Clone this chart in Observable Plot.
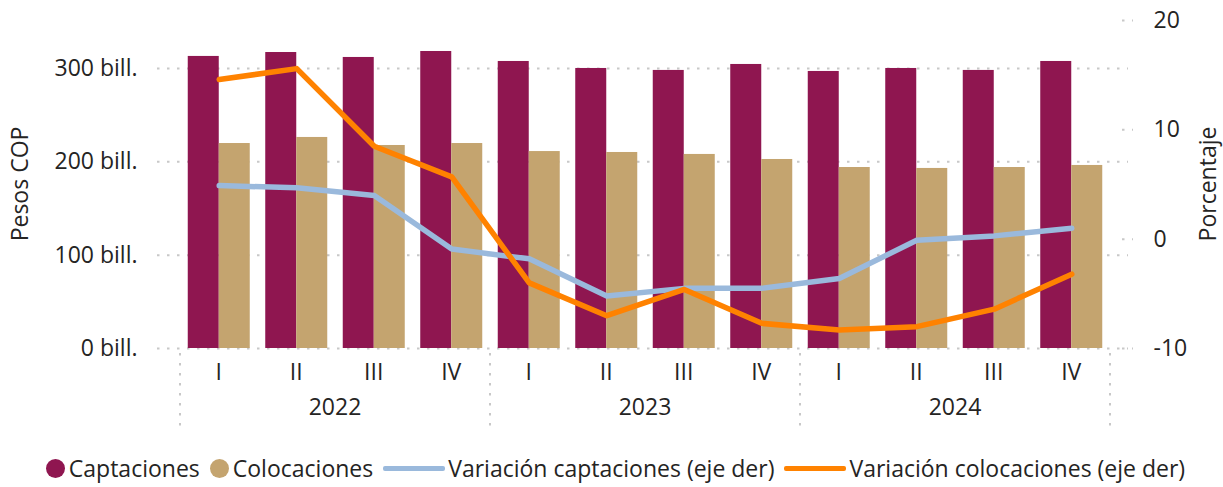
<!DOCTYPE html>
<html>
<head>
<meta charset="utf-8">
<script src="https://cdn.jsdelivr.net/npm/d3@7"></script>
<script src="https://cdn.jsdelivr.net/npm/@observablehq/plot@0.6"></script>
<style>
  html, body { margin: 0; padding: 0; background: #fff; }
  body { width: 1223px; height: 487px; overflow: hidden; font-family: "Open Sans", sans-serif; color: #252423; }
  #legend { display: flex; justify-content: center; align-items: center; height: 48px; margin-top: 4px; padding-left: 18px; font-size: 23px; white-space: nowrap; }
  .item { display: flex; align-items: center; margin-right: 10px; }
  .dot { width: 19px; height: 19px; border-radius: 50%; margin-right: 4px; }
  .sw { width: 62px; height: 5px; border-radius: 2px; margin-right: 3px; }
</style>
</head>
<body>
<div id="chart"></div>
<div id="legend"></div>
<script>
// ---- data ----
const years = ["2022", "2023", "2024"];
const quarters = ["I", "II", "III", "IV"];
const captaciones = [312.9, 317.1, 311.8, 318.2, 307.5, 300.0, 297.9, 304.3, 296.8, 300.0, 297.9, 307.5];
const colocaciones = [219.6, 226.1, 217.5, 219.6, 211.0, 210.0, 207.9, 202.5, 193.9, 192.9, 193.9, 196.1];
const varCaptaciones = [4.9, 4.7, 4.0, -0.9, -1.8, -5.2, -4.5, -4.5, -3.6, -0.1, 0.3, 1.0];
const varColocaciones = [14.6, 15.6, 8.5, 5.7, -4.0, -7.0, -4.6, -7.7, -8.3, -8.0, -6.4, -3.2];
const leftTicks = [0, 100, 200, 300];
const rightTicks = [-10, 0, 10, 20];
const leftTitle = "Pesos COP";
const rightTitle = "Porcentaje";
const seriesNames = ["Captaciones", "Colocaciones", "Variación captaciones (eje der)", "Variación colocaciones (eje der)"];
const colors = ["#8F1650", "#C4A46F", "#9AB9DC", "#FF8200"];

// ---- derived ----
const yMax = 351.4;
const leftDomain = [0, yMax];
const rightDomain = [-10, 20];
const toLeft = d3.scaleLinear().domain(rightDomain).range(leftDomain);
const periods = years.flatMap(y => quarters.map(q => y + "-" + q));
const rows = periods.map((p, i) => ({
  period: p, year: years[Math.floor(i / 4)], quarter: quarters[i % 4],
  cap: captaciones[i], col: colocaciones[i],
  vc: toLeft(varCaptaciones[i]), vo: toLeft(varColocaciones[i])
}));

const W = 1223, H = 440;
const ML = 180, MR = 113, MT = 20, MB = 92;
const PAD_IN = 0.2, PAD_OUT = 0.1;
const stepPx = (W - ML - MR) / (periods.length - PAD_IN + 2 * PAD_OUT);
const bandPx = stepPx * (1 - PAD_IN);
const FONT = "'Open Sans', sans-serif";
const FS = 23;

function decorations(index, scales, values, dim) {
  const x = scales.x;
  const g = d3.create("svg:g")
    .attr("font-family", FONT).attr("font-size", FS).attr("fill", "#252423");
  const base = dim.height - dim.marginBottom;
  const midY = (dim.marginTop + base) / 2;
  const gap = stepPx - bandPx;
  // quarter labels
  for (const r of rows) {
    g.append("text").attr("x", x(r.period) + bandPx / 2).attr("y", base + 24)
      .attr("text-anchor", "middle").attr("dy", "0.35em").text(r.quarter);
  }
  // year labels and separators
  const seps = [];
  for (const yr of years) {
    const first = x(yr + "-I"), last = x(yr + "-IV") + bandPx;
    g.append("text").attr("x", (first + last) / 2).attr("y", base + 59)
      .attr("text-anchor", "middle").attr("dy", "0.35em").text(yr);
    seps.push(first - gap / 2);
  }
  seps.push(x(years[years.length - 1] + "-IV") + bandPx + gap / 2);
  for (const s of seps) {
    g.append("line").attr("x1", s).attr("x2", s).attr("y1", base + 5).attr("y2", base + 79)
      .attr("stroke", "#c8c8c8").attr("stroke-width", 2).attr("stroke-dasharray", "2.5 7.5");
  }
  // axis titles
  g.append("text").attr("transform", `translate(${dim.marginLeft - 160},${midY}) rotate(-90)`)
    .attr("text-anchor", "middle").attr("dy", "0.35em").text(leftTitle);
  g.append("text").attr("transform", `translate(${dim.width - dim.marginRight + 98},${midY}) rotate(-90)`)
    .attr("text-anchor", "middle").attr("dy", "0.35em").text(rightTitle);
  return g.node();
}

const chart = Plot.plot({
  width: W, height: H,
  marginLeft: ML, marginRight: MR, marginTop: MT, marginBottom: MB,
  style: { fontFamily: FONT, fontSize: FS + "px", color: "#252423", background: "#fff", overflow: "visible" },
  x: { type: "band", domain: periods, paddingInner: PAD_IN, paddingOuter: PAD_OUT, round: false, axis: null },
  y: { domain: leftDomain, axis: null },
  marks: [
    Plot.ruleY(leftTicks, { stroke: "#c8c8c8", strokeWidth: 2, strokeDasharray: "2.5 7.5", insetLeft: -23, insetRight: -18 }),
    Plot.ruleY(rightTicks.map(toLeft), { stroke: "#c8c8c8", strokeWidth: 2, strokeDasharray: "2.5 7.5", insetLeft: (W - ML - MR) + 12, insetRight: -23 }),
    Plot.barY(rows, { x: "period", y: "cap", fill: colors[0], insetRight: bandPx / 2 }),
    Plot.barY(rows, { x: "period", y: "col", fill: colors[1], insetLeft: bandPx / 2 }),
    Plot.line(rows, { x: "period", y: "vc", stroke: colors[2], strokeWidth: 5.5, strokeLinejoin: "round", strokeLinecap: "round" }),
    Plot.line(rows, { x: "period", y: "vo", stroke: colors[3], strokeWidth: 5.5, strokeLinejoin: "round", strokeLinecap: "round" }),
    Plot.axisY(leftTicks, { anchor: "left", tickSize: 0, tickPadding: 43, tickFormat: d => d + " bill.", label: null }),
    Plot.axisY(rightTicks.map(toLeft), { anchor: "right", tickSize: 0, tickPadding: 43,
      tickFormat: d => String(Math.round(toLeft.invert(d))), label: null }),
    decorations
  ]
});
document.getElementById("chart").appendChild(chart);

// legend
const legend = d3.select("#legend");
seriesNames.forEach((name, i) => {
  const item = legend.append("div").attr("class", "item");
  item.append("div").attr("class", i < 2 ? "dot" : "sw").style("background", colors[i]);
  item.append("span").text(name);
});
</script>
</body>
</html>
